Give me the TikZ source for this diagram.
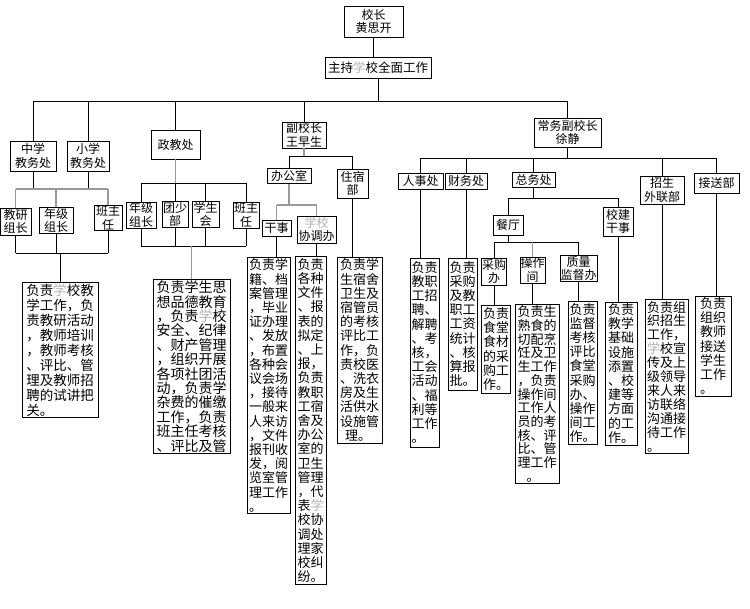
\documentclass[tikz,border=0pt]{standalone}
\usepackage{fontspec}
\setmainfont{Noto Sans CJK SC}
\usetikzlibrary{positioning}
\newcommand{\blurtxt}[1]{{\color{black!30}#1}}

\begin{document}
\begin{tikzpicture}[x=1pt,y=-1pt,
  box/.style={draw,line width=0.8pt,align=center,inner sep=0.5pt,font=\fontsize{12}{13.5}\selectfont},
  desc/.style={draw,line width=0.8pt,align=left,inner sep=1.5pt,font=\fontsize{13}{14.2}\selectfont},
  sz/.style 2 args={minimum width=#1pt,minimum height=#2pt},
  bline/.style={draw=black,line width=0.8pt},
  gline/.style={draw=black!40,line width=1.4pt}]
\useasboundingbox (0,0) rectangle (750,609);
% ---- top ----
\node[box,sz={59}{31}] (head) at (373.5,21.5) {校长\\黄思开};
\node[box,sz={106}{21},font=\fontsize{12.5}{14}\selectfont] (overall) at (378,67.5) {主持\blurtxt{学}校全面工作};
\coordinate (busA) at (375,101);
\draw[bline] (head.south) -- (head.south |- overall.north);
\draw[bline] (overall.south) -- (overall.south |- busA);
% ---- second level ----
\node[box,sz={46}{30}] (zx) at (33,156) {中学\\教务处};
\node[box,sz={42}{30}] (xx) at (88,156) {小学\\教务处};
\node[box,sz={49}{29}] (zj) at (175.5,144.5) {政教处};
\node[box,sz={44}{26}] (fx) at (304,135) {副校长\\王早生};
\node[box,sz={67}{29}] (cw) at (567.5,132.5) {常务副校长\\徐静};
\draw[bline] (zx.north |- busA) -- (cw.north |- busA);
\foreach \n in {zx,xx,zj,fx,cw} {\draw[bline] (\n.north |- busA) -- (\n.north);}
% ---- jiaowu ----
\node[box,sz={31}{27}] (jy) at (15.5,221.5) {教研\\组长};
\node[box,sz={34}{25}] (nj1) at (56,220.5) {年级\\组长};
\node[box,sz={28}{24}] (bz1) at (108,218) {班主\\任};
\node[desc,sz={76}{134},font=\fontsize{13.5}{15}\selectfont] (d1) at (60,350)
  {负责\blurtxt{学}校教\\学工作，负\\责教研活动\\，教师培训\\，教师考核\\、评比、管\\理及教师招\\聘的试讲把\\关。};
\coordinate (busB) at (0,189);
\coordinate (busC) at (0,253);
\foreach \n in {zx,xx} {\draw[bline] (\n.south) -- (\n.south |- busB);}
\draw[gline] (jy.north |- busB) -- (bz1.north |- busB);
\foreach \n in {jy,nj1,bz1} {
  \draw[gline] (\n.north |- busB) -- (\n.north);
  \draw[bline] (\n.south) -- (\n.south |- busC);}
\draw[bline] (jy.south |- busC) -- (bz1.south |- busC);
\draw[bline] (d1.north |- busC) -- (d1.north);
% ---- zhengjiao ----
\node[box,sz={30}{26}] (nj2) at (141,215) {年级\\组长};
\node[box,sz={26}{25}] (ts) at (175,214.5) {团少\\部};
\node[box,sz={27}{25}] (xs) at (205.5,214.5) {学生\\会};
\node[box,sz={26}{26}] (bz2) at (246,215) {班主\\任};
\node[desc,sz={77}{173},font=\fontsize{14}{14.4}\selectfont] (d2) at (191.5,366.5)
  {负责学生思\\想品德教育\\，负责\blurtxt{学}校\\安全、纪律\\、财产管理\\，组织开展\\各项社团活\\动，负责学\\杂费的催缴\\工作，负责\\班主任考核\\、评比及管};
\coordinate (busD) at (0,183);
\coordinate (busE) at (0,246);
\draw[gline] (zj.south) -- (zj.south |- busD);
\draw[bline] (nj2.north |- busD) -- (bz2.north |- busD);
\foreach \n in {nj2,ts,xs,bz2} {
  \draw[bline] (\n.north |- busD) -- (\n.north);
  \draw[bline] (\n.south) -- (\n.south |- busE);}
\draw[bline] (nj2.south |- busE) -- (bz2.south |- busE);
\draw[gline] (d2.north |- busE) -- (d2.north);
% ---- fu xiaozhang ----
\node[box,sz={44}{15}] (bgs) at (289,176) {办公室};
\node[box,sz={31}{29}] (zs) at (352.5,183.5) {住宿\\部};
\node[box,sz={29}{16}] (gs) at (276.5,228) {干事};
\node[box,sz={39}{27}] (xt) at (316.5,229.5) {\blurtxt{学校}\\协调办};
\coordinate (busF) at (0,156);
\coordinate (busG) at (0,205);
\draw[gline] (fx.south) -- (fx.south |- busF);
\draw[bline] (bgs.north |- busF) -- (zs.north |- busF);
\foreach \n in {bgs,zs} {\draw[bline] (\n.north |- busF) -- (\n.north);}
\draw[gline] (bgs.south) -- (bgs.south |- busG);
\draw[gline] (gs.north |- busG) -- (xt.north |- busG);
\foreach \n in {gs,xt} {\draw[gline] (\n.north |- busG) -- (\n.north);}
\node[desc,sz={43}{255}] (d3) at (268.5,385.5)
  {负责学\\籍、档\\案管理\\，毕业\\证办理\\、发放\\，布置\\各种会\\议会场\\，接待\\一般来\\人来访\\，文件\\报刊收\\发，阅\\览室管\\理工作\\。};
\node[desc,sz={31}{325}] (d4) at (310.5,420.5)
  {负责\\各种\\文件\\、报\\表的\\拟定\\、上\\报，\\负责\\教职\\工宿\\舍及\\办公\\室的\\卫生\\管理\\，代\\表\blurtxt{学}\\校协\\调处\\理家\\校纠\\纷。};
\node[desc,sz={45}{186}] (d5) at (359.5,350)
  {负责学\\生宿舍\\卫生及\\宿管员\\的考核\\评比工\\作，负\\责校医\\、洗衣\\房及生\\活供水\\设施管\\\hspace{5pt}理。};
\draw[bline] (gs.south) -- (gs.south |- d3.north);
\draw[bline] (xt.south) -- (xt.south |- d4.north);
\draw[bline] (zs.south) -- (zs.south |- d5.north);
% ---- changwu fu xiaozhang ----
\node[box,sz={45}{16}] (rs) at (420.5,181) {人事处};
\node[box,sz={42}{16}] (cwc) at (466,181) {财务处};
\node[box,sz={43}{15}] (zw) at (533.5,179.5) {总务处};
\node[box,sz={44}{28}] (zsw) at (662,190) {招生\\外联部};
\node[box,sz={45}{20}] (js) at (716.5,183) {接送部};
\coordinate (busH) at (0,158);
\draw[bline] (cw.south) -- (cw.south |- busH);
\draw[bline] (rs.north |- busH) -- (js.north |- busH);
\foreach \n in {rs,cwc,zw,zsw,js} {\draw[bline] (\n.north |- busH) -- (\n.north);}
\node[box,sz={30}{20}] (ct) at (508,225) {餐厅};
\node[box,sz={30}{29}] (xj) at (618,221.5) {校建\\干事};
\coordinate (busI) at (0,198);
\draw[bline] (zw.south) -- (zw.south |- busI);
\draw[bline] (ct.north |- busI) -- (xj.north |- busI);
\foreach \n in {ct,xj} {\draw[bline] (\n.north |- busI) -- (\n.north);}
\node[box,sz={24}{27}] (cg) at (494,271.5) {采购\\办};
\node[box,sz={25}{26}] (cz) at (532.5,270) {操作\\间};
\node[box,sz={37}{23}] (zl) at (578.5,268.5) {质量\\监督办};
\coordinate (busJ) at (0,242);
\draw[bline] (ct.south) -- (ct.south |- busJ);
\draw[bline] (cg.north |- busJ) -- (zl.north |- busJ);
\draw[bline] (cg.north |- busJ) -- (cg.north);
\draw[gline] (cz.north |- busJ) -- (cz.north);
\draw[bline] (zl.north |- busJ) -- (zl.north);
% ---- duties ----
\node[desc,sz={29}{189}] (d6) at (424.5,352.5)
  {负责\\教职\\工招\\聘、\\解聘\\、考\\核，\\工会\\活动\\、福\\利等\\工作\\。};
\node[desc,sz={27}{132}] (d7) at (462.5,324)
  {负责\\采购\\及教\\职工\\工资\\统计\\、核\\算报\\批。};
\node[desc,sz={28}{88}] (d8) at (496,349)
  {负责\\食堂\\食材\\的采\\购工\\作。};
\node[desc,sz={44}{178},font=\fontsize{13}{13.7}\selectfont] (d9) at (537,394)
  {负责生\\熟食的\\切配烹\\饪及卫\\生工作\\，负责\\操作间\\工作人\\员的考\\核、评\\比、管\\理工作\\\hspace{9pt}。};
\node[desc,sz={29}{142}] (d10) at (582.5,373)
  {负责\\监督\\考核\\评比\\食堂\\采购\\办、\\操作\\间工\\作。};
\node[desc,sz={32}{143}] (d11) at (621,373.5)
  {负责\\教学\\基础\\设施\\添置\\、校\\建等\\方面\\的工\\作。};
\node[desc,sz={43}{153},font=\fontsize{13}{13.9}\selectfont] (d12) at (666.5,376.5)
  {负责组\\织招生\\工作，\\\blurtxt{学}校宣\\传及上\\级领导\\来人来\\访联络\\沟通接\\待工作\\。};
\node[desc,sz={36}{98}] (d13) at (713,346)
  {负责\\组织\\教师\\接送\\学生\\工作\\。};
\foreach \a/\b in {rs/d6,cwc/d7,cg/d8,cz/d9,zl/d10,xj/d11,zsw/d12,js/d13} {
  \draw[bline] (\a.south) -- (\a.south |- \b.north);}
\end{tikzpicture}
\end{document}
